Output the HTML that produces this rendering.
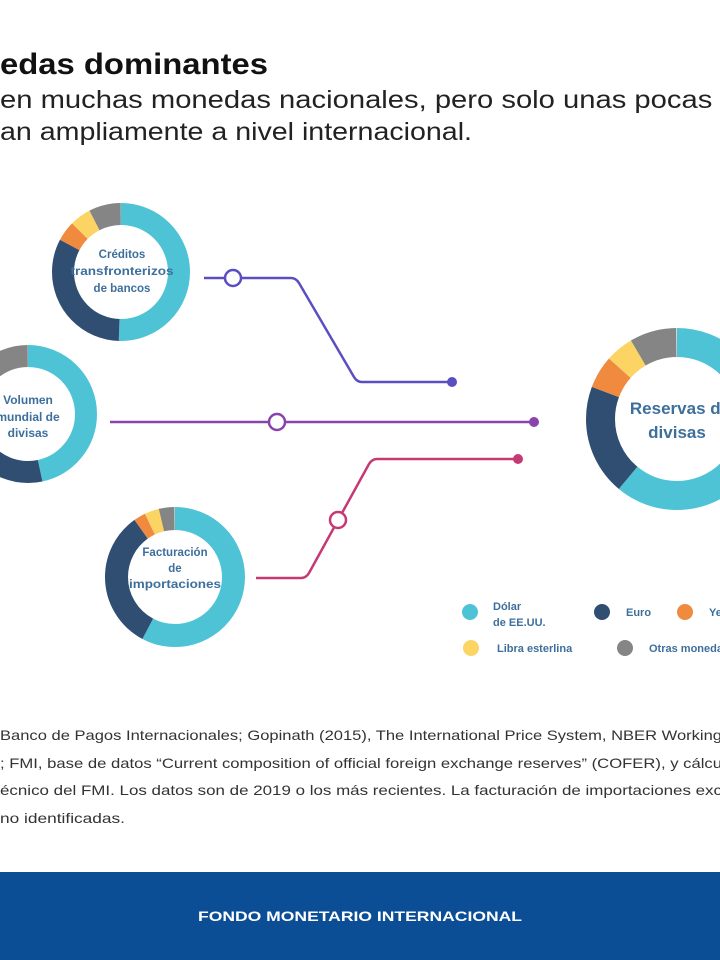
<!DOCTYPE html>
<html><head><meta charset="utf-8"><style>
html,body{margin:0;padding:0;background:#fff;}
svg{display:block;}
</style></head><body>
<svg width="720" height="960" viewBox="0 0 720 960" xmlns="http://www.w3.org/2000/svg">
<rect width="720" height="960" fill="#fff"/>
<g font-family="Liberation Sans, sans-serif">
<text x="0" y="74" font-size="30" font-weight="bold" fill="#111" textLength="268" lengthAdjust="spacingAndGlyphs">edas dominantes</text>
<text x="0" y="108" font-size="25" fill="#222" textLength="735" lengthAdjust="spacingAndGlyphs">en muchas monedas nacionales, pero solo unas pocas s</text>
<text x="0" y="140" font-size="25" fill="#222" textLength="472" lengthAdjust="spacingAndGlyphs">an ampliamente a nivel internacional.</text>
</g>

<!-- lines -->
<g fill="none" stroke-width="2.5" stroke-linejoin="round">
<path d="M204 278 H291 Q296 278 299 283 L354 377 Q357 382 362 382 H452" stroke="#5a4fc2"/>
<path d="M110 422 H534" stroke="#8a43ad"/>
<path d="M256 578 H301 Q306 578 309 573 L369 464 Q372 459 377 459 H518" stroke="#c53a74"/>
</g>
<circle cx="452" cy="382" r="5" fill="#5a4fc2"/>
<circle cx="534" cy="422" r="5" fill="#8a43ad"/>
<circle cx="518" cy="459" r="5" fill="#c53a74"/>
<circle cx="233" cy="278" r="8" fill="#fff" stroke="#5a4fc2" stroke-width="2.5"/>
<circle cx="277" cy="422" r="8" fill="#fff" stroke="#8a43ad" stroke-width="2.5"/>
<circle cx="338" cy="520" r="8" fill="#fff" stroke="#c53a74" stroke-width="2.5"/>

<!-- donut 1 -->
<g transform="translate(121 272) rotate(-90)" fill="none" stroke-width="22">
<circle r="58" pathLength="360" stroke="#4fc3d6" stroke-dasharray="182 360" stroke-dashoffset="0"/>
<circle r="58" pathLength="360" stroke="#2f4e72" stroke-dasharray="116 360" stroke-dashoffset="-182"/>
<circle r="58" pathLength="360" stroke="#ef8a3e" stroke-dasharray="17 360" stroke-dashoffset="-298"/>
<circle r="58" pathLength="360" stroke="#fbd464" stroke-dasharray="18 360" stroke-dashoffset="-315"/>
<circle r="58" pathLength="360" stroke="#858585" stroke-dasharray="27 360" stroke-dashoffset="-333"/>
</g>
<!-- donut 2 -->
<g transform="translate(28 414) rotate(-90)" fill="none" stroke-width="22">
<circle r="58" pathLength="360" stroke="#4fc3d6" stroke-dasharray="168 360" stroke-dashoffset="0"/>
<circle r="58" pathLength="360" stroke="#2f4e72" stroke-dasharray="122 360" stroke-dashoffset="-168"/>
<circle r="58" pathLength="360" stroke="#ef8a3e" stroke-dasharray="12 360" stroke-dashoffset="-290"/>
<circle r="58" pathLength="360" stroke="#fbd464" stroke-dasharray="14 360" stroke-dashoffset="-302"/>
<circle r="58" pathLength="360" stroke="#858585" stroke-dasharray="44 360" stroke-dashoffset="-316"/>
</g>
<!-- donut 3 -->
<g transform="translate(175 577) rotate(-90)" fill="none" stroke-width="23">
<circle r="58.5" pathLength="360" stroke="#4fc3d6" stroke-dasharray="208 360" stroke-dashoffset="0"/>
<circle r="58.5" pathLength="360" stroke="#2f4e72" stroke-dasharray="117 360" stroke-dashoffset="-208"/>
<circle r="58.5" pathLength="360" stroke="#ef8a3e" stroke-dasharray="10 360" stroke-dashoffset="-325"/>
<circle r="58.5" pathLength="360" stroke="#fbd464" stroke-dasharray="12 360" stroke-dashoffset="-335"/>
<circle r="58.5" pathLength="360" stroke="#858585" stroke-dasharray="13 360" stroke-dashoffset="-347"/>
</g>
<!-- donut 4 -->
<g transform="translate(677 419) rotate(-90)" fill="none" stroke-width="29">
<circle r="76.5" pathLength="360" stroke="#4fc3d6" stroke-dasharray="220 360" stroke-dashoffset="0"/>
<circle r="76.5" pathLength="360" stroke="#2f4e72" stroke-dasharray="71 360" stroke-dashoffset="-220"/>
<circle r="76.5" pathLength="360" stroke="#ef8a3e" stroke-dasharray="21 360" stroke-dashoffset="-291"/>
<circle r="76.5" pathLength="360" stroke="#fbd464" stroke-dasharray="18 360" stroke-dashoffset="-312"/>
<circle r="76.5" pathLength="360" stroke="#858585" stroke-dasharray="30 360" stroke-dashoffset="-330"/>
</g>

<g font-family="Liberation Sans, sans-serif" font-weight="bold" fill="#3d6f9c" text-anchor="middle">
<text x="122" y="258" font-size="11.5">Créditos</text>
<text x="122" y="275" font-size="11.5" textLength="103" lengthAdjust="spacingAndGlyphs">transfronterizos</text>
<text x="122" y="292" font-size="11.5">de bancos</text>
<text x="28" y="404" font-size="12">Volumen</text>
<text x="28" y="421" font-size="12">mundial de</text>
<text x="28" y="437" font-size="12">divisas</text>
<text x="175" y="556" font-size="11.5">Facturación</text>
<text x="175" y="572" font-size="11.5">de</text>
<text x="175" y="588" font-size="11.5" textLength="92" lengthAdjust="spacingAndGlyphs">importaciones</text>
<text x="680" y="414" font-size="17">Reservas de</text>
<text x="677" y="438" font-size="17">divisas</text>
</g>

<!-- legend -->
<circle cx="470" cy="612" r="8" fill="#4fc3d6"/>
<circle cx="602" cy="612" r="8" fill="#2f4e72"/>
<circle cx="685" cy="612" r="8" fill="#ef8a3e"/>
<circle cx="471" cy="648" r="8" fill="#fbd464"/>
<circle cx="625" cy="648" r="8" fill="#858585"/>
<g font-family="Liberation Sans, sans-serif" font-weight="bold" fill="#3d6f9c" font-size="11">
<text x="493" y="610">Dólar</text>
<text x="493" y="626">de EE.UU.</text>
<text x="626" y="616">Euro</text>
<text x="709" y="616">Yen</text>
<text x="497" y="652">Libra esterlina</text>
<text x="649" y="652">Otras monedas</text>
</g>

<g font-family="Liberation Sans, sans-serif" font-size="14" fill="#333">
<text x="0" y="740" textLength="722" lengthAdjust="spacingAndGlyphs">Banco de Pagos Internacionales; Gopinath (2015), The International Price System, NBER Working</text>
<text x="0" y="768" textLength="722" lengthAdjust="spacingAndGlyphs">; FMI, base de datos “Current composition of official foreign exchange reserves” (COFER), y cálcu</text>
<text x="0" y="795" textLength="722" lengthAdjust="spacingAndGlyphs">écnico del FMI. Los datos son de 2019 o los más recientes. La facturación de importaciones exc</text>
<text x="0" y="823" textLength="125" lengthAdjust="spacingAndGlyphs">no identificadas.</text>
</g>

<rect x="0" y="872" width="720" height="88" fill="#0b4e96"/>
<text x="360" y="921" text-anchor="middle" font-family="Liberation Sans, sans-serif" font-weight="bold" font-size="14" fill="#fff" textLength="324" lengthAdjust="spacingAndGlyphs">FONDO MONETARIO INTERNACIONAL</text>
</svg>
</body></html>
